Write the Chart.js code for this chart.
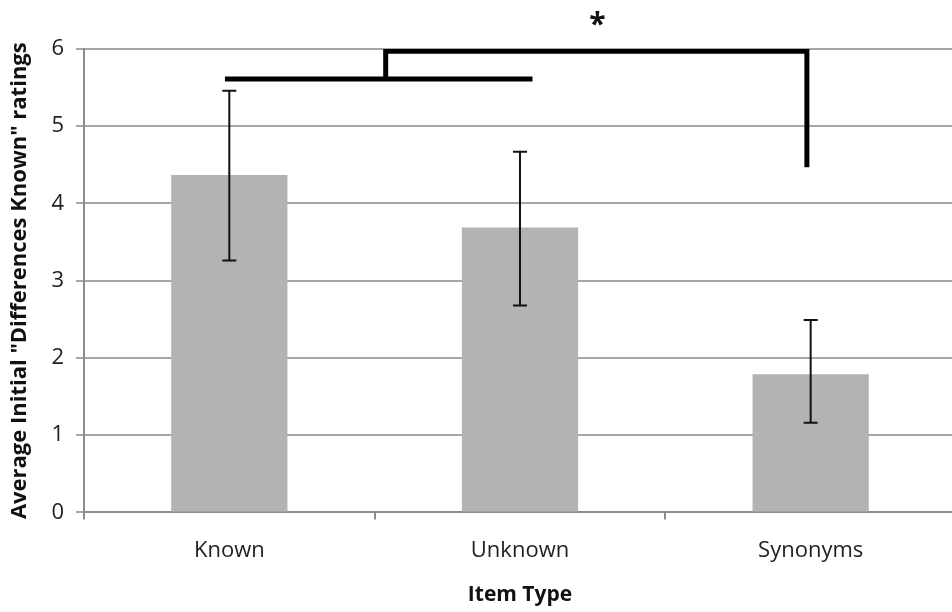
<!DOCTYPE html>
<html>
<head>
<meta charset="utf-8">
<script src="https://cdn.jsdelivr.net/npm/chart.js@4.4.1/dist/chart.umd.min.js"></script>
<style>
  html, body { margin: 0; padding: 0; background: #fff; overflow: hidden; }
  #wrap { width: 960px; height: 612px; }
</style>
</head>
<body>
<div id="wrap"><canvas id="chart"></canvas></div>
<script>
// ---- data ----
const categories = ["Known", "Unknown", "Synonyms"];
const means = [4.37, 3.69, 1.79];
const errLow = [3.26, 2.68, 1.16];
const errHigh = [5.46, 4.67, 2.49];
const yTicks = [0, 1, 2, 3, 4, 5, 6];

// significance bracket (x in category index units)
const bracketLowX = [-0.015, 1.043];
const bracketLowY = [5.61, 5.61];
const bracketHighX = [0.538, 0.538, 1.987, 1.987];
const bracketHighY = [5.61, 5.97, 5.97, 4.47];
const starLabel = "*";
const starPos = [1.266, 6.38];

const font = "'Open Sans', sans-serif";

function toPoints(xs, ys) {
    return xs.map((x, i) => ({ x: x, y: ys[i] }));
}

// error bars + star
const extras = {
    id: "extras",
    afterDatasetsDraw(chart) {
        const c = chart.ctx;
        const xs = chart.scales.x;
        const ys = chart.scales.y;
        const xb = chart.scales.xb;

        c.save();
        c.strokeStyle = "#111";
        c.lineWidth = 2;
        for (let i = 0; i < categories.length; i++) {
            const px = xs.getPixelForValue(i);
            const top = ys.getPixelForValue(errHigh[i]);
            const bot = ys.getPixelForValue(errLow[i]);
            c.beginPath();
            c.moveTo(px, top);
            c.lineTo(px, bot);
            c.moveTo(px - 7, top);
            c.lineTo(px + 7, top);
            c.moveTo(px - 7, bot);
            c.lineTo(px + 7, bot);
            c.stroke();
        }

        c.fillStyle = "#111";
        c.font = "bold 30px " + font;
        c.textAlign = "center";
        c.textBaseline = "middle";
        c.fillText(starLabel, xb.getPixelForValue(starPos[0]), ys.getPixelForValue(starPos[1]) + 6);
        c.restore();
    }
};

new Chart(document.getElementById("chart"), {
    data: {
        labels: categories,
        datasets: [
            {
                type: "line",
                data: toPoints(bracketLowX, bracketLowY),
                xAxisID: "xb",
                borderColor: "#000",
                borderWidth: 5,
                pointRadius: 0,
                order: 0
            },
            {
                type: "line",
                data: toPoints(bracketHighX, bracketHighY),
                xAxisID: "xb",
                borderColor: "#000",
                borderWidth: 5,
                borderJoinStyle: "miter",
                pointRadius: 0,
                order: 0
            },
            {
                type: "bar",
                data: means,
                xAxisID: "x",
                backgroundColor: "#b3b3b3",
                grouped: false,
                barPercentage: 0.4,
                categoryPercentage: 1.0,
                order: 1
            }
        ]
    },
    options: {
        responsive: true,
        maintainAspectRatio: false,
        animation: false,
        layout: { padding: { top: 49, right: 4, left: 7, bottom: 4 } },
        plugins: {
            legend: { display: false },
            tooltip: { enabled: false }
        },
        scales: {
            x: {
                type: "category",
                offset: true,
                grid: {
                    display: true,
                    offset: true,
                    drawOnChartArea: false,
                    drawTicks: true,
                    tickLength: 7,
                    color: "#8c8c8c",
                    lineWidth: 2
                },
                border: { color: "#8c8c8c", width: 2 },
                ticks: {
                    color: "#222",
                    font: { family: font, size: 22 },
                    padding: 18
                },
                title: {
                    display: true,
                    text: "Item Type",
                    color: "#111",
                    font: { family: font, size: 21, weight: "bold" },
                    padding: { top: 1, bottom: 0 }
                }
            },
            xb: {
                type: "linear",
                display: false,
                min: -0.5,
                max: 2.5
            },
            y: {
                min: yTicks[0],
                max: yTicks[yTicks.length - 1],
                afterBuildTicks(scale) {
                    scale.ticks = yTicks.map(v => ({ value: v }));
                },
                grid: {
                    color: "#a6a6a6",
                    lineWidth: 2,
                    tickLength: 8
                },
                border: { color: "#8c8c8c", width: 2 },
                ticks: {
                    color: "#222",
                    font: { family: font, size: 22 },
                    padding: 12
                },
                title: {
                    display: true,
                    text: 'Average Initial "Differences Known" ratings',
                    color: "#111",
                    font: { family: font, size: 22, weight: "bold" },
                    padding: { top: 0, bottom: 6 }
                }
            }
        }
    },
    plugins: [extras]
});
</script>
</body>
</html>
